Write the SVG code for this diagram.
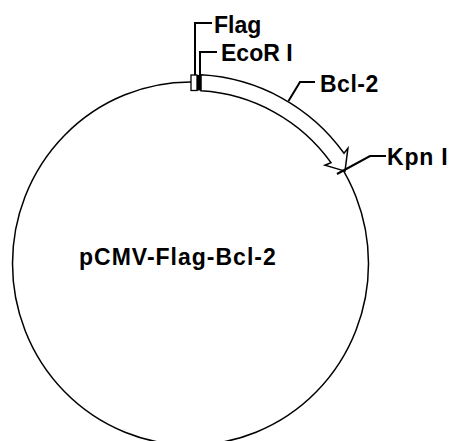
<svg xmlns="http://www.w3.org/2000/svg" width="452" height="441" viewBox="0 0 452 441">
  <style>
    .bb { fill: none; stroke: #000; stroke-width: 1.5; }
    .lead { fill: none; stroke: #000; stroke-width: 2; stroke-linejoin: miter; }
    .lbl { font-family: "Liberation Sans", Arial, sans-serif; font-weight: bold; font-size: 23px; fill: #000; }
  </style>
  <rect width="452" height="441" fill="#fff"/>
  <g id="plasmid">
    <ellipse cx="190.5" cy="263.5" rx="178" ry="181.5" class="bb"/>
  </g>
  <g id="bcl2-insert">
    <path d="M201,74.8 A189,189 0 0 1 344,153.2 L347.9,148.3 L345,171.1 L324.9,165.2 L331,162.6 A173,173 0 0 0 201,90.8 Z" fill="#fff" stroke="#000" stroke-width="1.5" stroke-linejoin="miter"/>
  </g>
  <g id="flag-tag">
    <rect x="191" y="75" width="6" height="15.5" fill="#fff" stroke="#000" stroke-width="1.3"/>
    <rect x="197" y="75" width="4" height="15.5" fill="#000"/>
  </g>
  <g id="connectors">
    <polyline class="lead" points="195,75 195,23 212,23"/>
    <polyline class="lead" points="200,75 200,52 217,52"/>
    <polyline class="lead" points="288.5,101 300,82 315,82"/>
    <polyline class="lead" points="337,174 370,156 386,156"/>
  </g>
  <g id="label-flag"><text class="lbl" x="214" y="32.5">Flag</text></g>
  <g id="label-ecori"><text class="lbl" x="221" y="60.5">EcoR I</text></g>
  <g id="label-bcl2"><text class="lbl" x="320" y="91.5" letter-spacing="0.5">Bcl-2</text></g>
  <g id="label-kpni"><text class="lbl" x="387" y="164.5" letter-spacing="0.8">Kpn I</text></g>
  <g id="label-plasmid"><text class="lbl" x="79" y="265" letter-spacing="1">pCMV-Flag-Bcl-2</text></g>
</svg>
